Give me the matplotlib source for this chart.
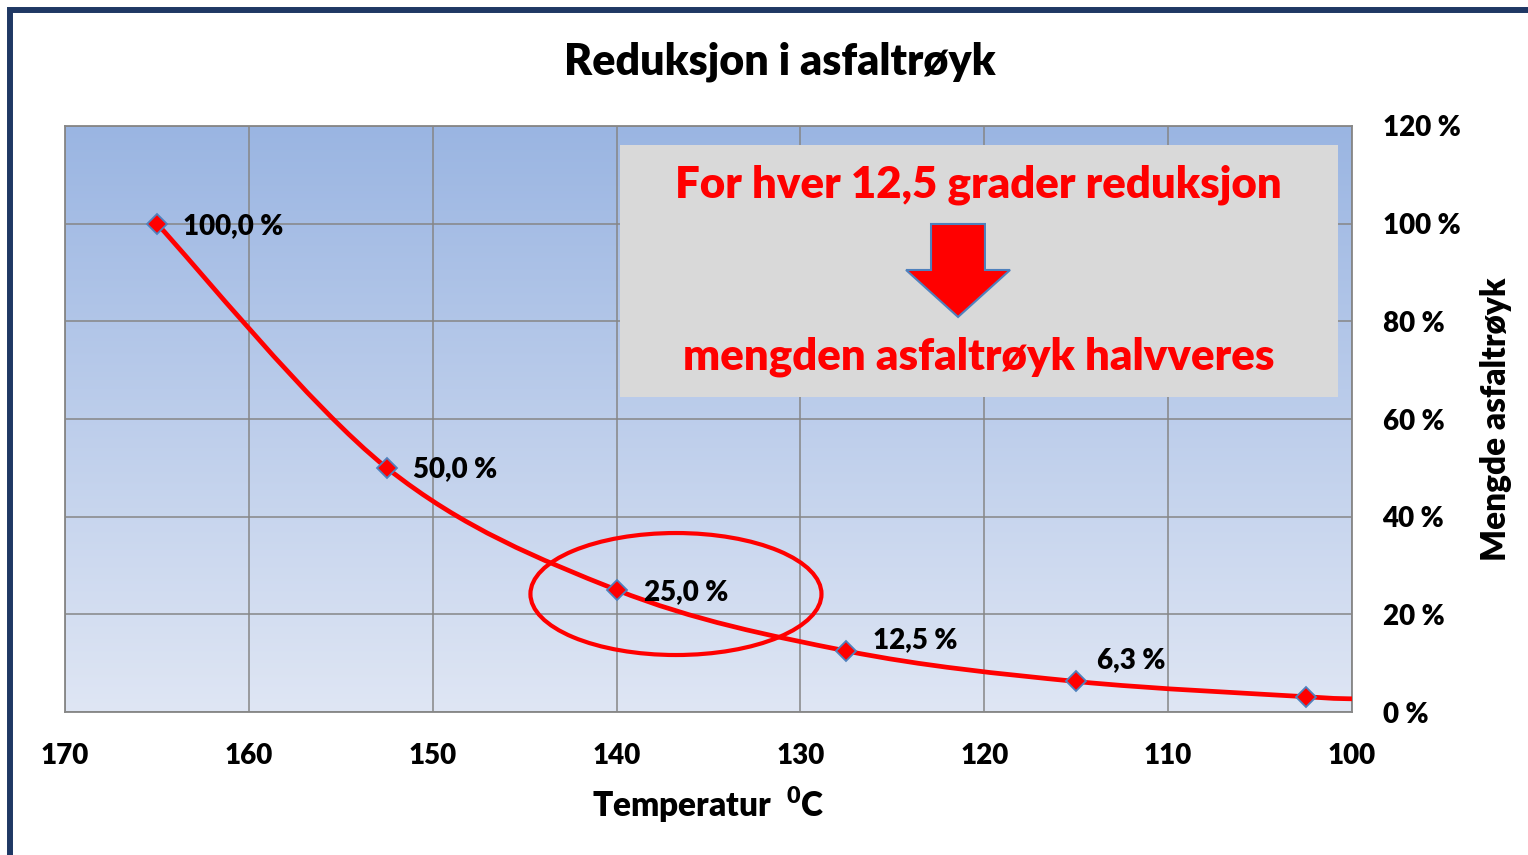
import numpy as np
import matplotlib.pyplot as plt
from matplotlib.path import Path
from matplotlib.patches import PathPatch, Rectangle, Ellipse, Polygon

# data
temperature = [165, 152.5, 140, 127.5, 115, 102.5, 100]
smoke_pct = [100.0, 50.0, 25.0, 12.5, 6.25, 3.125, 2.7]
n_marked = 6
point_labels = ['100,0 %', '50,0 %', '25,0 %', '12,5 %', '6,3 %']
label_offsets = [(26, -2), (26, -1), (27, -2), (27, 11), (21, 21)]
x_ticks = [170, 160, 150, 140, 130, 120, 110, 100]
y_ticks = [0, 20, 40, 60, 80, 100, 120]

title = 'Reduksjon i asfaltrøyk'
note_top = 'For hver 12,5 grader reduksjon'
note_bottom = 'mengden asfaltrøyk halvveres'

plt.rcParams['font.family'] = ['Lato', 'DejaVu Sans']
plt.rcParams['font.weight'] = 'heavy'
plt.rcParams['mathtext.default'] = 'regular'

RED = '#FF0000'
GRID = '#868686'
W = 'heavy'


def smooth_path(xs, ys):
    # excel style smoothed line: cubic bezier segments, catmull-rom tangents
    pts = np.column_stack([xs, ys]).astype(float)
    ext = np.vstack([pts[0], pts, pts[-1]])
    verts = [pts[0]]
    codes = [Path.MOVETO]
    for i in range(len(pts) - 1):
        p0, p1, p2, p3 = ext[i], ext[i + 1], ext[i + 2], ext[i + 3]
        verts += [p1 + (p2 - p0) / 6, p2 - (p3 - p1) / 6, p2]
        codes += [Path.CURVE4] * 3
    return Path(verts, codes)


fig = plt.figure(figsize=(15.28, 8.55), dpi=100)
ax = fig.add_axes([65 / 1528, 1 - 712 / 855, 1287 / 1528, 586 / 855])

# outer frame
fig.patches.append(Rectangle((10 / 1528, -0.2), 1.2, 1.2 - 10 / 855,
                             transform=fig.transFigure, fill=False,
                             edgecolor='#1F3864', lw=4.3))

# gradient plot area
grad = np.linspace(0, 1, 256).reshape(-1, 1)
top = np.array([154, 181, 226]) / 255
bottom = np.array([223, 230, 244]) / 255
img = top + (bottom - top) * grad[..., None]
ax.imshow(img.reshape(256, 1, 3), extent=[0, 1, 0, 1], transform=ax.transAxes,
          aspect='auto', zorder=0)

ax.set_xlim(170, 100)
ax.set_ylim(0, 120)
ax.set_xticks(x_ticks)
ax.set_yticks(y_ticks)
ax.set_yticklabels([f'{v} %' for v in y_ticks])
ax.grid(True, color=GRID, lw=1.1, zorder=1)
ax.set_axisbelow(True)
for s in ax.spines.values():
    s.set_color(GRID)
    s.set_linewidth(1.3)
ax.yaxis.tick_right()
ax.yaxis.set_label_position('right')
ax.tick_params(axis='both', length=0, labelsize=20)
ax.tick_params(axis='x', pad=22)
ax.tick_params(axis='y', pad=22)
for lab in ax.get_yticklabels() + ax.get_xticklabels():
    lab.set_fontweight(W)
for lab in ax.get_yticklabels():
    lab.set_horizontalalignment('left')

ax.set_xlabel('Temperatur  $^{0}$C', fontsize=24, fontweight=W, labelpad=12)
ax.set_ylabel('Mengde asfaltrøyk', fontsize=24, fontweight=W, labelpad=14)

# note box with arrow
ax.add_patch(Rectangle((0.4312, 0.5375), 0.5578, 0.4301, transform=ax.transAxes,
                       facecolor='#D9D9D9', edgecolor='none', zorder=2))
ax.text(0.7098, 0.8993, note_top, transform=ax.transAxes, ha='center', va='center',
        color=RED, fontsize=31.5, fontweight=W, zorder=3)
ax.text(0.710, 0.6058, note_bottom, transform=ax.transAxes, ha='center', va='center',
        color=RED, fontsize=31.5, fontweight=W, zorder=3)
arrow = [(0.6729, 0.8328), (0.7148, 0.8328), (0.7148, 0.7543), (0.7343, 0.7543),
         (0.6939, 0.6741), (0.6535, 0.7543), (0.6729, 0.7543)]
ax.add_patch(Polygon(arrow, closed=True, transform=ax.transAxes, facecolor=RED,
                     edgecolor='#4F81BD', lw=1.5, zorder=3))

# curve and markers
ax.add_patch(PathPatch(smooth_path(temperature, smoke_pct), facecolor='none',
                       edgecolor=RED, lw=3.4, zorder=4, capstyle='butt'))
ax.plot(temperature[:n_marked], smoke_pct[:n_marked], ls='none', marker='D',
        ms=10, mfc=RED, mec='#4F81BD', mew=1.3, zorder=5)

for x, y, txt, off in zip(temperature, smoke_pct, point_labels, label_offsets):
    ax.annotate(txt, (x, y), xytext=off, textcoords='offset pixels',
                ha='left', va='center', fontsize=20, fontweight=W, zorder=6)

ax.add_patch(Ellipse((136.77, 24.16), 15.83, 24.98, fill=False, edgecolor=RED,
                     lw=3, zorder=5))

fig.text(780 / 1528, 1 - 62 / 855, title, ha='center', va='center',
         fontsize=31, fontweight=W)

fig.savefig('out.png', dpi=100)
